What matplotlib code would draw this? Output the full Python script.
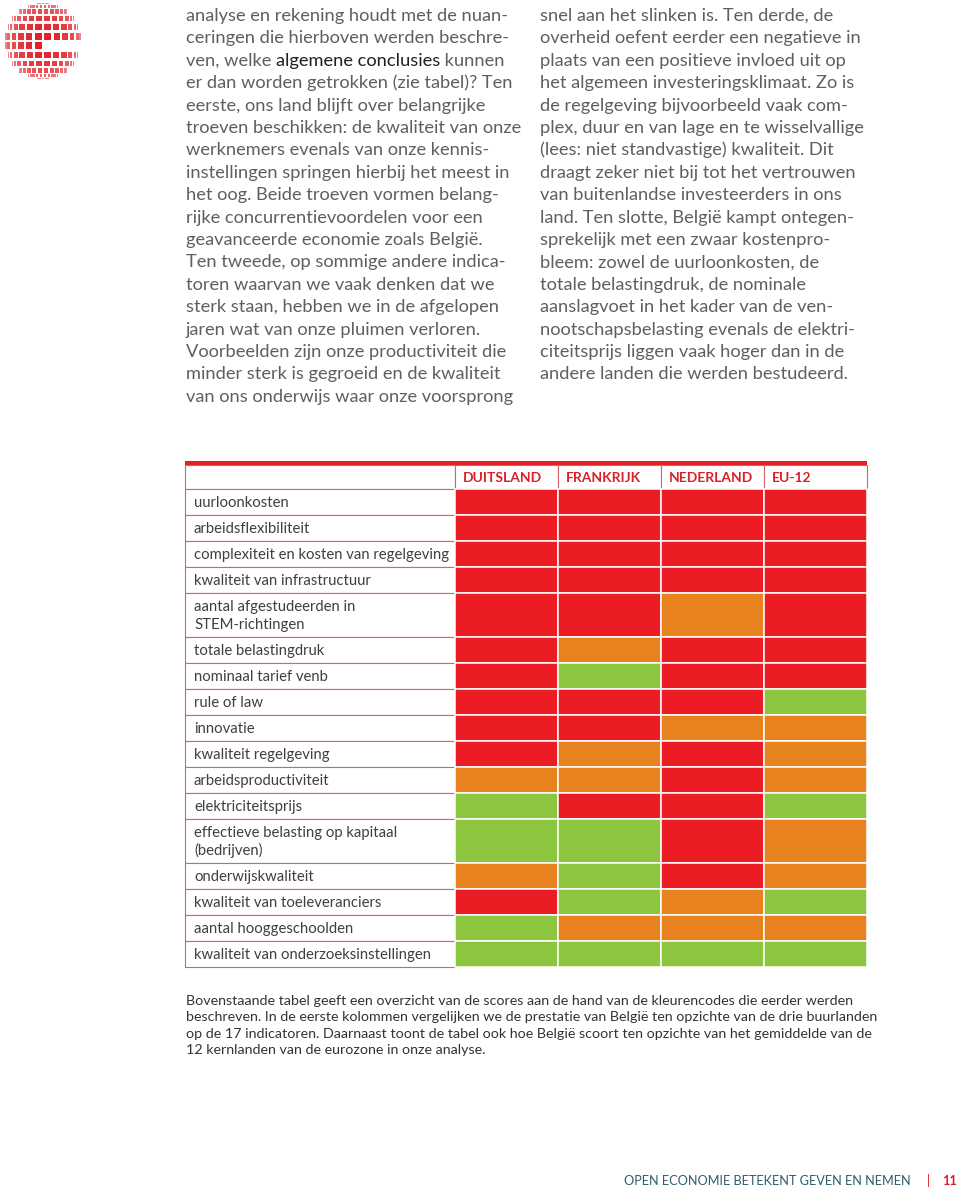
import numpy as np
import matplotlib
matplotlib.use('Agg')
import matplotlib.pyplot as plt
from matplotlib.patches import Rectangle

plt.rcParams['font.family'] = ['Lato', 'DejaVu Sans']

# --- data ---------------------------------------------------------------
indicators = [
    'uurloonkosten', 'arbeidsflexibiliteit', 'complexiteit en kosten van regelgeving',
    'kwaliteit van infrastructuur', 'aantal afgestudeerden in\nSTEM-richtingen',
    'totale belastingdruk', 'nominaal tarief venb', 'rule of law', 'innovatie',
    'kwaliteit regelgeving', 'arbeidsproductiviteit', 'elektriciteitsprijs',
    'effectieve belasting op kapitaal\n(bedrijven)', 'onderwijskwaliteit',
    'kwaliteit van toeleveranciers', 'aantal hooggeschoolden',
    'kwaliteit van onderzoeksinstellingen',
]
countries = ['DUITSLAND', 'FRANKRIJK', 'NEDERLAND', 'EU-12']
# R = rood, O = oranje, G = groen (per rij: DE, FR, NL, EU-12)
scores = [
    'RRRR', 'RRRR', 'RRRR', 'RRRR', 'RROR', 'RORR', 'RGRR', 'RRRG', 'RROO',
    'RORO', 'OORO', 'GRRG', 'GGRO', 'OGRO', 'RGOG', 'GOOO', 'GGGG',
]

left_text = [
    'analyse en rekening houdt met de nuan-',
    'ceringen die hierboven werden beschre-',
    'ven, welke |algemene conclusies| kunnen',
    'er dan worden getrokken (zie tabel)? Ten',
    'eerste, ons land blijft over belangrijke',
    'troeven beschikken: de kwaliteit van onze',
    'werknemers evenals van onze kennis-',
    'instellingen springen hierbij het meest in',
    'het oog. Beide troeven vormen belang-',
    'rijke concurrentievoordelen voor een',
    'geavanceerde economie zoals België.',
    'Ten tweede, op sommige andere indica-',
    'toren waarvan we vaak denken dat we',
    'sterk staan, hebben we in de afgelopen',
    'jaren wat van onze pluimen verloren.',
    'Voorbeelden zijn onze productiviteit die',
    'minder sterk is gegroeid en de kwaliteit',
    'van ons onderwijs waar onze voorsprong',
]
right_text = [
    'snel aan het slinken is. Ten derde, de',
    'overheid oefent eerder een negatieve in',
    'plaats van een positieve invloed uit op',
    'het algemeen investeringsklimaat. Zo is',
    'de regelgeving bijvoorbeeld vaak com-',
    'plex, duur en van lage en te wisselvallige',
    '(lees: niet standvastige) kwaliteit. Dit',
    'draagt zeker niet bij tot het vertrouwen',
    'van buitenlandse investeerders in ons',
    'land. Ten slotte, België kampt ontegen-',
    'sprekelijk met een zwaar kostenpro-',
    'bleem: zowel de uurloonkosten, de',
    'totale belastingdruk, de nominale',
    'aanslagvoet in het kader van de ven-',
    'nootschapsbelasting evenals de elektri-',
    'citeitsprijs liggen vaak hoger dan in de',
    'andere landen die werden bestudeerd.',
]
caption = [
    'Bovenstaande tabel geeft een overzicht van de scores aan de hand van de kleurencodes die eerder werden',
    'beschreven. In de eerste kolommen vergelijken we de prestatie van België ten opzichte van de drie buurlanden',
    'op de 17 indicatoren. Daarnaast toont de tabel ook hoe België scoort ten opzichte van het gemiddelde van de',
    '12 kernlanden van de eurozone in onze analyse.',
]
footer = 'OPEN ECONOMIE BETEKENT GEVEN EN NEMEN'
page_no = '11'

# --- styles -------------------------------------------------------------
colors = {'R': '#EC1C24', 'O': '#E8821E', 'G': '#8CC63F'}
red = '#E31E26'
pink = '#D4636B'
gray = '#5E5F62'

fig = plt.figure(figsize=(9.6, 11.89), dpi=100)
ax = fig.add_axes([0, 0, 1, 1])
ax.set_xlim(0, 960)
ax.set_ylim(1189, 0)
ax.axis('off')
renderer = fig.canvas.get_renderer()


def width_px(s, size, weight='normal'):
    t = ax.text(0, 0, s, fontsize=size, fontweight=weight)
    w = t.get_window_extent(renderer).width
    t.remove()
    return w


def fit(pairs, weight='normal'):
    # mean font size so that each string is about its target width (px)
    return np.mean([10 * tw / width_px(s, 10, weight) for s, tw in pairs])


# --- logo (sphere of small squares with an "e" slot) ---------------------
cx, cy, R = 43, 41, 38
step = np.radians(14.5)
for i in np.arange(-5.5, 6):
    for j in np.arange(-5.5, 6):
        lat, lon = i * step, j * step
        x = cx + R * np.sin(lon) * np.cos(lat)
        y = cy + R * np.sin(lat)
        w = R * np.sin(step) * np.cos(lon) * np.cos(lat) * 0.75
        h = R * np.sin(step) * np.cos(lat) * 0.75
        if w < 0.8 or h < 0.8:
            continue
        if i == 0.5 and j > -0.5:
            continue
        shade = 0.45 + 0.55 * np.cos(lon) * np.cos(lat)
        ax.add_patch(Rectangle((x - w / 2, y - h / 2), w, h, fc='#E31E26',
                               ec='none', alpha=shade))

# --- two text columns ---------------------------------------------------
body_size = fit([
    ('eerste, ons land blijft over belangrijke', 327),
    ('instellingen springen hierbij het meest in', 320),
    ('Voorbeelden zijn onze productiviteit die', 314),
    ('van ons onderwijs waar onze voorsprong', 320),
    ('plex, duur en van lage en te wisselvallige', 323),
    ('andere landen die werden bestudeerd.', 306),
])
for k, line in enumerate(left_text):
    yb = 21 + 22.4 * k
    x = 186
    for n, part in enumerate(line.split('|')):
        c = '#231F20' if n % 2 else gray
        ax.text(x, yb, part, fontsize=body_size, color=c, va='baseline')
        x += width_px(part, body_size)
for k, line in enumerate(right_text):
    ax.text(540, 21 + 22.4 * k, line, fontsize=body_size, color=gray, va='baseline')

# --- table --------------------------------------------------------------
x0, label_w, col_w = 185, 270, 103
top = 465
head_h = 24
lab_size = fit([('complexiteit en kosten van regelgeving', 254),
                ('kwaliteit van onderzoeksinstellingen', 240)])
head_size = fit([('DUITSLAND', 78), ('NEDERLAND', 86)], 'bold')

ax.add_patch(Rectangle((x0, top - 4), label_w + 4 * col_w, 4, fc=red, ec='none'))
ax.add_patch(Rectangle((x0, top), label_w, head_h, fc='white', ec=pink, lw=0.8))
for c, name in enumerate(countries):
    xc = x0 + label_w + c * col_w
    ax.add_patch(Rectangle((xc, top), col_w, head_h, fc='white', ec=pink, lw=0.8))
    ax.text(xc + 8, top + head_h / 2 + 1, name, fontsize=head_size, fontweight='bold',
            color='#D9202B', va='center')

y = top + head_h
for label, row in zip(indicators, scores):
    parts = label.split('\n')
    h = 26 + 18 * (len(parts) - 1)
    ax.add_patch(Rectangle((x0, y), label_w, h, fc='white', ec=pink, lw=0.8))
    for k, p in enumerate(parts):
        ax.text(x0 + 9, y + 18 + 18 * k, p, fontsize=lab_size, color='#3F3F3F',
                va='baseline')
    for c, code in enumerate(row):
        xc = x0 + label_w + c * col_w
        ax.add_patch(Rectangle((xc, y), col_w, h, fc=colors[code], ec='white', lw=1.1))
    y += h

# --- caption ------------------------------------------------------------
cap_size = fit([(caption[0], 683), (caption[1], 684), (caption[2], 684)])
for k, line in enumerate(caption):
    ax.text(186, 1005 + 16.4 * k, line, fontsize=cap_size, color='#333333', va='baseline')

# --- footer -------------------------------------------------------------
foot_size = fit([(footer, 286)])
ax.text(624, 1185, footer, fontsize=foot_size, color='#2E5E6B', va='baseline')
ax.text(927, 1185, '|', fontsize=foot_size, color=red, va='baseline')
ax.text(942, 1185, page_no, fontsize=foot_size, fontweight='bold', color=red,
        va='baseline')

fig.savefig('out.png', dpi=100)
